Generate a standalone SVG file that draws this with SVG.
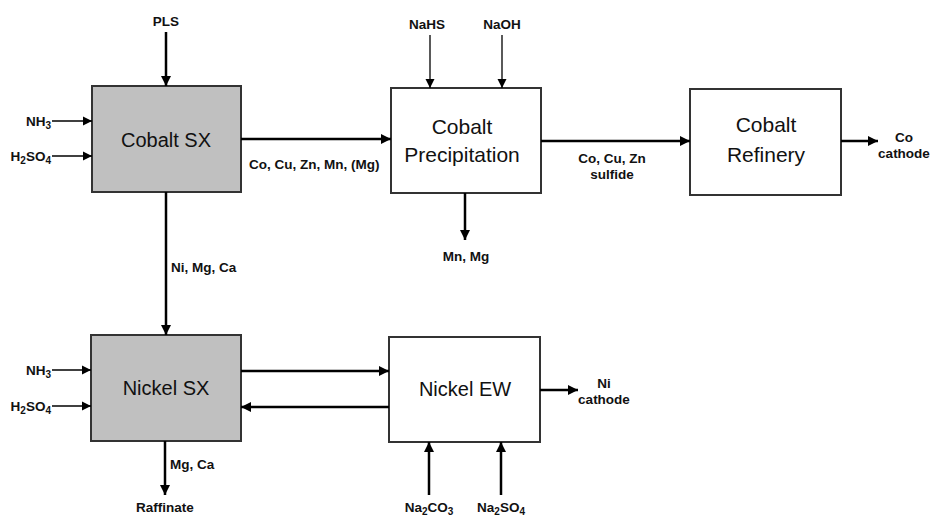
<svg xmlns="http://www.w3.org/2000/svg" width="931" height="516" viewBox="0 0 931 516">
<defs>
<marker id="ah" viewBox="0 0 10 10" refX="10" refY="5" markerWidth="4" markerHeight="4" orient="auto" markerUnits="strokeWidth"><path d="M0,0 L10,5 L0,10 Z" fill="#000"/></marker>
<marker id="ahs" viewBox="0 0 10 10" refX="10" refY="5" markerWidth="7" markerHeight="7" orient="auto" markerUnits="strokeWidth"><path d="M0,0 L10,5 L0,10 Z" fill="#000"/></marker>
<style>
.box{stroke:#333;stroke-width:2}
.gray{fill:#c0c0c0}
.white{fill:#fff}
.title{font-family:"Liberation Sans",Arial,sans-serif;font-size:20px;text-anchor:middle;fill:#111}
.t21{font-size:21px}
.lbl{font-family:"Liberation Sans",Arial,sans-serif;font-size:13.5px;font-weight:bold;fill:#111}
.mid{text-anchor:middle}
.end{text-anchor:end}
.thick{stroke:#000;stroke-width:2.5;fill:none;marker-end:url(#ah)}
.thin{stroke:#000;stroke-width:1.3;fill:none;marker-end:url(#ahs)}
</style>
</defs>
<rect width="931" height="516" fill="#fff"/>
<g id="cobalt-sx"><rect class="box gray" x="92" y="86" width="149" height="106"/><text class="title" x="166" y="147">Cobalt SX</text></g>
<g id="cobalt-precipitation"><rect class="box white" x="391" y="88" width="150" height="105"/><text class="title t21" x="462" y="134">Cobalt</text><text class="title t21" x="462" y="162">Precipitation</text></g>
<g id="cobalt-refinery"><rect class="box white" x="690" y="89" width="151" height="106"/><text class="title t21" x="766" y="132">Cobalt</text><text class="title t21" x="766" y="162">Refinery</text></g>
<g id="nickel-sx"><rect class="box gray" x="91" y="335" width="150" height="106"/><text class="title" x="166" y="395">Nickel SX</text></g>
<g id="nickel-ew"><rect class="box white" x="389" y="337" width="151" height="105"/><text class="title" x="465" y="396">Nickel EW</text></g>
<g id="connectors">
<path class="thick" d="M166,32 V86"/>
<path class="thin" d="M52,121 H92"/>
<path class="thin" d="M52,156 H92"/>
<path class="thick" d="M241,139 H391"/>
<path class="thin" d="M430,35 V88"/>
<path class="thin" d="M502,35 V88"/>
<path class="thick" d="M465,193 V240"/>
<path class="thick" d="M541,141 H690"/>
<path class="thick" d="M841,141 H878"/>
<path class="thick" d="M166,192 V335"/>
<path class="thin" d="M52,370 H91"/>
<path class="thin" d="M52,406 H91"/>
<path class="thick" d="M165,441 V495"/>
<path class="thick" d="M241,371 H389"/>
<path class="thick" d="M389,407 H241"/>
<path class="thick" d="M540,390 H578"/>
<path class="thick" d="M429,495 V442"/>
<path class="thick" d="M501,495 V442"/>
</g>
<g id="labels">
<text class="lbl mid" x="166" y="26">PLS</text>
<text class="lbl end" x="51" y="126">NH<tspan font-size="10" dy="3">3</tspan></text>
<text class="lbl end" x="51" y="161">H<tspan font-size="10" dy="3">2</tspan><tspan dy="-3">SO</tspan><tspan font-size="10" dy="3">4</tspan></text>
<text class="lbl" x="249" y="169">Co, Cu, Zn, Mn, (Mg)</text>
<text class="lbl mid" x="427" y="29">NaHS</text>
<text class="lbl mid" x="502" y="29">NaOH</text>
<text class="lbl mid" x="466" y="261">Mn, Mg</text>
<text class="lbl mid" x="612" y="163">Co, Cu, Zn</text>
<text class="lbl mid" x="612" y="179">sulfide</text>
<text class="lbl mid" x="904" y="142">Co</text>
<text class="lbl mid" x="904" y="158">cathode</text>
<text class="lbl" x="171" y="272">Ni, Mg, Ca</text>
<text class="lbl end" x="51" y="375">NH<tspan font-size="10" dy="3">3</tspan></text>
<text class="lbl end" x="51" y="411">H<tspan font-size="10" dy="3">2</tspan><tspan dy="-3">SO</tspan><tspan font-size="10" dy="3">4</tspan></text>
<text class="lbl" x="170" y="469">Mg, Ca</text>
<text class="lbl mid" x="165" y="512">Raffinate</text>
<text class="lbl mid" x="604" y="388">Ni</text>
<text class="lbl mid" x="604" y="404">cathode</text>
<text class="lbl mid" x="429" y="512">Na<tspan font-size="10" dy="3">2</tspan><tspan dy="-3">CO</tspan><tspan font-size="10" dy="3">3</tspan></text>
<text class="lbl mid" x="501" y="512">Na<tspan font-size="10" dy="3">2</tspan><tspan dy="-3">SO</tspan><tspan font-size="10" dy="3">4</tspan></text>
</g>
</svg>
